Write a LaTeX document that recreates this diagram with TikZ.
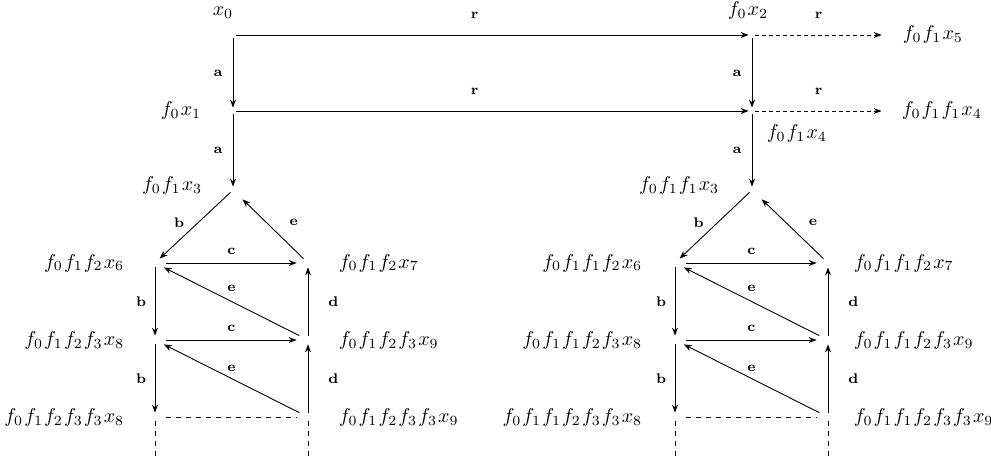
\documentclass[tikz,border=0pt]{standalone}
\usepackage{amsmath,amssymb}
\usepackage{tikz}
\usetikzlibrary{arrows.meta, positioning}
\newcommand{\fgap}{\mkern1mu}

\begin{document}
\begin{tikzpicture}[x=0.5pt, y=-0.5pt,
    pt/.style={circle, inner sep=0pt, minimum size=3pt},
    rung/.style={rectangle, inner sep=0pt, minimum width=11pt, minimum height=4pt},
    obj/.style={inner sep=0pt},
    lab/.style={font=\scriptsize, inner sep=2pt},
    arr/.style={-{Stealth[length=4pt, width=3pt]}, line width=0.45pt},
    dasharr/.style={arr, dash pattern=on 2pt off 1.5pt},
    trail/.style={line width=0.45pt, dash pattern=on 2.5pt off 2.5pt}
  ]
  \useasboundingbox (0,0) rectangle (991,460);

  % top square
  \node[pt] (x0)   at (233,35)  {};
  \node[pt] (fx2)  at (752,35)  {};
  \node[pt] (fx5)  at (885,35)  {};
  \node[pt] (fx1)  at (233,111) {};
  \node[pt] (fx4)  at (752,111) {};
  \node[pt] (ffx4) at (885,111) {};
  \node[pt] (fx3)  at (233,190) {};
  \node[pt] (ffx3) at (752,190) {};

  \node[obj, above=6.5pt of x0, xshift=-5pt] (t0) {$x_0$};
  \node[obj, above=6pt of fx2, xshift=-2pt] (t2) {$f_0\fgap x_2$};
  \node[obj, right=7pt of fx5] (t5) {$f_0\fgap f_1\fgap x_5$};
  \node[obj, left=14pt of fx1] (t1) {$f_0\fgap x_1$};
  \node[obj, below right=5.5pt and 6pt of fx4] (t4) {$f_0\fgap f_1\fgap x_4$};
  \node[obj, right=6.5pt of ffx4] (tt4) {$f_0\fgap f_1\fgap f_1\fgap x_4$};
  \node[obj, left=13.5pt of fx3, yshift=2pt] (t3) {$f_0\fgap f_1\fgap x_3$};
  \node[obj, left=14.5pt of ffx3, yshift=2pt] (tt3) {$f_0\fgap f_1\fgap f_1\fgap x_3$};

  \draw[arr] (x0) -- node[lab, above=6pt, pos=.465] (r1) {$\mathbf{r}$} (fx2);
  \draw[dasharr] (fx2) -- node[lab, above=6pt] (r2) {$\mathbf{r}$} (fx5);
  \draw[arr] (fx1) -- node[lab, above=6pt, pos=.465] (r3) {$\mathbf{r}$} (fx4);
  \draw[dasharr] (fx4) -- node[lab, above=6pt] (r4) {$\mathbf{r}$} (ffx4);
  \draw[arr] (x0) -- node[lab, left=3pt] (a1) {$\mathbf{a}$} (fx1);
  \draw[arr] (fx2) -- node[lab, left=3pt] (a2) {$\mathbf{a}$} (fx4);
  \draw[arr] (fx1) -- node[lab, left=3pt] (a3) {$\mathbf{a}$} (fx3);
  \draw[arr] (fx4) -- node[lab, left=3pt] (a4) {$\mathbf{a}$} (ffx3);

  % left ladder
  \node[rung] (L6)  at (155,263) {};
  \node[rung] (L7)  at (308,263) {};
  \node[rung] (L8)  at (155,340) {};
  \node[rung] (L9)  at (308,340) {};
  \node[rung] (L8b) at (155,417) {};
  \node[rung] (L9b) at (308,417) {};
  \coordinate (L8e) at (155,456);
  \coordinate (L9e) at (308,456);

  \node[obj, left=9.5pt of L6]   (tL6)  {$f_0\fgap f_1\fgap f_2\fgap x_6$};
  \node[obj, right=9.5pt of L7]  (tL7)  {$f_0\fgap f_1\fgap f_2\fgap x_7$};
  \node[obj, left=9.5pt of L8]   (tL8)  {$f_0\fgap f_1\fgap f_2\fgap f_3\fgap x_8$};
  \node[obj, right=9.5pt of L9]  (tL9)  {$f_0\fgap f_1\fgap f_2\fgap f_3\fgap x_9$};
  \node[obj, left=9.5pt of L8b]  (tL8b) {$f_0\fgap f_1\fgap f_2\fgap f_3\fgap f_3\fgap x_8$};
  \node[obj, right=9.5pt of L9b] (tL9b) {$f_0\fgap f_1\fgap f_2\fgap f_3\fgap f_3\fgap x_9$};

  \draw[arr] (fx3) -- node[lab, left=5pt, pos=.45] (bL1) {$\mathbf{b}$} (L6);
  \draw[arr, shorten >=5pt] (L7) -- node[lab, right=9.5pt, pos=.55] (eL1) {$\mathbf{e}$} (fx3);
  \draw[arr] (L6) -- node[lab, above=2pt] (cL1) {$\mathbf{c}$} (L7);
  \draw[arr] (L9) -- node[lab, above=3pt] (eL2) {$\mathbf{e}$} (L6);
  \draw[arr] (L6) -- node[lab, left=2.2pt] (bL2) {$\mathbf{b}$} (L8);
  \draw[arr] (L9) -- node[lab, right=8pt] (dL1) {$\mathbf{d}$} (L7);
  \draw[arr] (L8) -- node[lab, above=2pt] (cL2) {$\mathbf{c}$} (L9);
  \draw[arr] (L9b) -- node[lab, above=1.5pt] (eL3) {$\mathbf{e}$} (L8);
  \draw[arr] (L8) -- node[lab, left=2.2pt] (bL3) {$\mathbf{b}$} (L8b);
  \draw[arr] (L9b) -- node[lab, right=8pt] (dL2) {$\mathbf{d}$} (L9);
  \draw[trail] (L8b) -- (L9b);
  \draw[trail] (L8b) -- (L8e);
  \draw[trail] (L9b) -- (L9e);

  % right ladder
  \node[rung] (R6)  at (675,263) {};
  \node[rung] (R7)  at (828,263) {};
  \node[rung] (R8)  at (675,340) {};
  \node[rung] (R9)  at (828,340) {};
  \node[rung] (R8b) at (675,417) {};
  \node[rung] (R9b) at (828,417) {};
  \coordinate (R8e) at (675,456);
  \coordinate (R9e) at (828,456);

  \node[obj, left=10.5pt of R6] (tR6)  {$f_0\fgap f_1\fgap f_1\fgap f_2\fgap x_6$};
  \node[obj, right=7pt of R7]   (tR7)  {$f_0\fgap f_1\fgap f_1\fgap f_2\fgap x_7$};
  \node[obj, left=10.5pt of R8] (tR8)  {$f_0\fgap f_1\fgap f_1\fgap f_2\fgap f_3\fgap x_8$};
  \node[obj, right=7pt of R9]   (tR9)  {$f_0\fgap f_1\fgap f_1\fgap f_2\fgap f_3\fgap x_9$};
  \node[obj, left=10.5pt of R8b](tR8b) {$f_0\fgap f_1\fgap f_1\fgap f_2\fgap f_3\fgap f_3\fgap x_8$};
  \node[obj, right=7pt of R9b]  (tR9b) {$f_0\fgap f_1\fgap f_1\fgap f_2\fgap f_3\fgap f_3\fgap x_9$};

  \draw[arr] (ffx3) -- node[lab, left=5pt, pos=.45] (bR1) {$\mathbf{b}$} (R6);
  \draw[arr, shorten >=5pt] (R7) -- node[lab, right=9.5pt, pos=.55] (eR1) {$\mathbf{e}$} (ffx3);
  \draw[arr] (R6) -- node[lab, above=2pt] (cR1) {$\mathbf{c}$} (R7);
  \draw[arr] (R9) -- node[lab, above=3pt] (eR2) {$\mathbf{e}$} (R6);
  \draw[arr] (R6) -- node[lab, left=2.2pt] (bR2) {$\mathbf{b}$} (R8);
  \draw[arr] (R9) -- node[lab, right=8pt] (dR1) {$\mathbf{d}$} (R7);
  \draw[arr] (R8) -- node[lab, above=2pt] (cR2) {$\mathbf{c}$} (R9);
  \draw[arr] (R9b) -- node[lab, above=1.5pt] (eR3) {$\mathbf{e}$} (R8);
  \draw[arr] (R8) -- node[lab, left=2.2pt] (bR3) {$\mathbf{b}$} (R8b);
  \draw[arr] (R9b) -- node[lab, right=8pt] (dR2) {$\mathbf{d}$} (R9);
  \draw[trail] (R8b) -- (R9b);
  \draw[trail] (R8b) -- (R8e);
  \draw[trail] (R9b) -- (R9e);
\end{tikzpicture}
\end{document}
